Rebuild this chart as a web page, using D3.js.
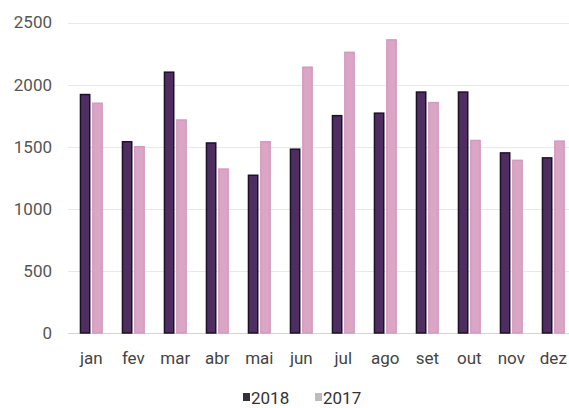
<!DOCTYPE html>
<html>
<head>
<meta charset="utf-8">
<script src="https://cdn.jsdelivr.net/npm/d3@7"></script>
<style>
  html, body { margin: 0; padding: 0; background: #fff; }
  svg { display: block; font-family: Roboto, "DejaVu Sans", sans-serif; }
</style>
</head>
<body>
<svg id="chart" width="569" height="408"></svg>
<script>
// Monthly totals, 2018 vs 2017
const months = ["jan", "fev", "mar", "abr", "mai", "jun", "jul", "ago", "set", "out", "nov", "dez"];
const series = ["2018", "2017"];
const values2018 = [1920, 1540, 2100, 1530, 1270, 1480, 1750, 1770, 1940, 1940, 1450, 1410];
const values2017 = [1850, 1500, 1715, 1320, 1540, 2140, 2260, 2360, 1855, 1550, 1390, 1545];
const yTicks = [0, 500, 1000, 1500, 2000, 2500];

const barFill = { "2018": "#4e2e60", "2017": "#dba5c6" };
const barEdge = { "2018": "#1d1029", "2017": "#d49abd" };
const legendFill = { "2018": "#333333", "2017": "#bdbdbd" };

const svg = d3.select("#chart");

const y = d3.scaleLinear().domain([0, 2500]).range([333, 22.5]);
const x = d3.scaleBand().domain(months).range([70.3, 574.3])
  .paddingInner(0.46).paddingOuter(0.23);
const xs = d3.scaleBand().domain(series).range([0, x.bandwidth()]).paddingInner(0.17);

// horizontal grid
svg.append("g")
  .selectAll("line")
  .data(yTicks)
  .join("line")
  .attr("x1", 68).attr("x2", 569)
  .attr("y1", d => Math.round(y(d)) + 0.5)
  .attr("y2", d => Math.round(y(d)) + 0.5)
  .attr("stroke", d => d === 0 ? "#d4d4d4" : "#e8e8e8")
  .attr("stroke-width", 1);

// y axis labels
const yAxis = d3.axisLeft(y).tickValues(yTicks).tickFormat(d3.format("d")).tickSize(0).tickPadding(0);
svg.append("g")
  .attr("transform", "translate(52,0)")
  .call(yAxis)
  .call(g => g.select(".domain").remove())
  .call(g => g.selectAll("text")
    .attr("fill", "#555")
    .attr("font-size", 17)
    .attr("font-family", "Roboto, sans-serif"));

// bars
const rows = months.map((m, i) => ({ month: m, "2018": values2018[i], "2017": values2017[i] }));
const groups = svg.append("g")
  .selectAll("g")
  .data(rows)
  .join("g")
  .attr("transform", d => `translate(${x(d.month)},0)`);

groups.selectAll("rect")
  .data(d => series.map(s => ({ key: s, value: d[s] })))
  .join("rect")
  .attr("x", d => xs(d.key) + 0.5)
  .attr("width", xs.bandwidth() - 1)
  .attr("y", d => y(d.value))
  .attr("height", d => y(0) - y(d.value))
  .attr("fill", d => barFill[d.key])
  .attr("stroke", d => barEdge[d.key])
  .attr("stroke-width", 1.5);

// month labels
const xAxis = d3.axisBottom(x).tickSize(0).tickPadding(0);
svg.append("g")
  .attr("transform", "translate(0,352)")
  .call(xAxis)
  .call(g => g.select(".domain").remove())
  .call(g => g.selectAll("text")
    .attr("fill", "#444")
    .attr("font-size", 17)
    .attr("font-family", "Roboto, sans-serif"));

// legend
const legend = svg.append("g").attr("transform", "translate(243,404)");
const legendItems = [{ key: "2018", x: 0 }, { key: "2017", x: 72 }];
const li = legend.selectAll("g").data(legendItems).join("g")
  .attr("transform", d => `translate(${d.x},0)`);
li.append("rect")
  .attr("x", 0).attr("y", -11).attr("width", 7).attr("height", 8)
  .attr("fill", d => legendFill[d.key]);
li.append("text")
  .attr("x", 8).attr("y", 0)
  .attr("font-size", 17)
  .attr("fill", "#333")
  .text(d => d.key);
</script>
</body>
</html>
